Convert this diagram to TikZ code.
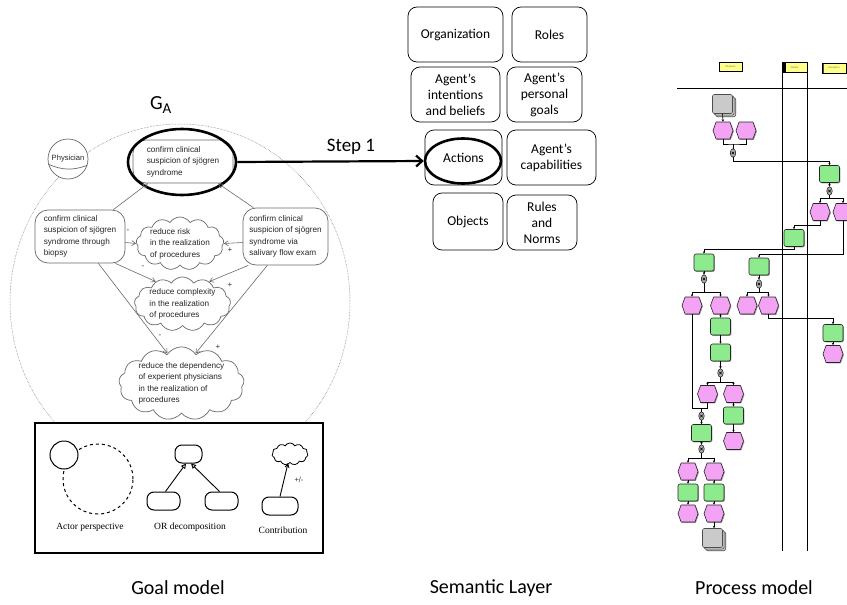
\documentclass[tikz,border=0pt]{standalone}
\usepackage{fontspec}
\setmainfont{Carlito}
\newfontfamily\goalfont{Liberation Sans}
\newfontfamily\legendfont{Liberation Serif}
\usetikzlibrary{shapes.geometric,shapes.symbols,arrows.meta,shadows}

\definecolor{evpink}{HTML}{F4A3F4}
\definecolor{fngreen}{HTML}{8DEB8D}
\definecolor{docgray}{HTML}{CACACA}
\definecolor{lanehead}{HTML}{FFFF8C}
\definecolor{goalline}{HTML}{6A6A6A}

\tikzset{
  % goal model
  gtext/.style={font=\goalfont\fontsize{8.2}{11.4}\selectfont, align=left, text=black!85},
  hardgoal/.style={gtext, draw=goalline, line width=0.7pt, rounded corners=13pt, inner sep=0, fill=white},
  softgoal/.style={gtext, draw=goalline, line width=0.7pt, cloud, cloud puffs=13, cloud puff arc=115,
                   cloud ignores aspect, inner sep=0, fill=white},
  orlink/.style={goalline, line width=0.6pt, -{Triangle[open,length=5pt,width=5pt]}},
  contrib/.style={goalline, line width=0.6pt, -{Straight Barb[length=4pt,width=5pt]}},
  sign/.style={font=\goalfont\fontsize{8}{8}\selectfont, text=black!80, inner sep=0},
  focus/.style={draw=black, ellipse, line width=2.6pt, inner sep=0},
  % legend
  lgbox/.style={draw=black, line width=1pt, rounded corners=7pt, inner sep=0, fill=white},
  lgtext/.style={font=\legendfont\fontsize{9.5}{11}\selectfont},
  % semantic layer
  sembox/.style={draw=black, line width=0.7pt, rounded corners=9pt, inner sep=0, align=center,
                 font=\fontsize{13.5}{16}\selectfont},
  % process model
  shade/.style={drop shadow={shadow xshift=0.9pt, shadow yshift=-0.9pt, fill=black!50, opacity=0.8}},
  fn/.style={shade, draw=black!85, fill=fngreen, rounded corners=2pt, minimum width=20pt,
             minimum height=17pt, inner sep=0, line width=0.6pt},
  ev/.style={shade, draw=black!85, fill=evpink, signal, signal to=east and west, signal pointer angle=140,
             minimum width=20pt, minimum height=17pt, inner sep=0, line width=0.6pt},
  docbox/.style={draw=black!70, fill=docgray, rounded corners=2pt, minimum width=20pt, minimum height=19pt,
             inner sep=0, line width=0.6pt,
             double copy shadow={shadow xshift=1.6pt, shadow yshift=-1.6pt, draw=black!70, fill=docgray}},
  xo/.style={ellipse, draw=black, fill=gray!65, minimum width=5.5pt, minimum height=8.5pt, inner sep=0,
             line width=0.45pt,
             path picture={\draw[line width=0.4pt]
               ([xshift=-1.3pt,yshift=-1.3pt]path picture bounding box.center) --
               ([xshift=1.3pt,yshift=1.3pt]path picture bounding box.center)
               ([xshift=-1.3pt,yshift=1.3pt]path picture bounding box.center) --
               ([xshift=1.3pt,yshift=-1.3pt]path picture bounding box.center);}},
  lanehd/.style={shade, draw=black, fill=lanehead, inner sep=0, line width=0.6pt,
             font=\goalfont\fontsize{2.4}{3}\selectfont, text=black!60},
  flow/.style={draw=black, line width=0.6pt},
  flowa/.style={flow, -{Stealth[length=2.4pt,width=2.4pt]}},
  caption/.style={font=\fontsize{20}{24}\selectfont},
}

\begin{document}
\begin{tikzpicture}[x=1pt,y=-1pt]
\useasboundingbox (0,0) rectangle (847,605);
\clip (0,0) rectangle (847,605);
\fill[white] (0,0) rectangle (847,605);

% ---------------- goal model ----------------
\node[font=\fontsize{20}{20}\selectfont, inner sep=0] (ga) at (161,105) {G\textsubscript{\fontsize{15}{15}\selectfont A}};

\draw[goalline, densely dotted, line width=0.5pt] (180,302) ellipse [x radius=170pt, y radius=178pt];

\node[circle, draw=goalline, fill=white, line width=0.7pt, minimum size=40pt, inner sep=0,
      font=\goalfont\fontsize{7.6}{9}\selectfont, text=black!85] (phys) at (68,159) {Physician};
\draw[goalline, line width=0.7pt] (phys.195) to[bend right=22] (phys.-18);

\node[hardgoal, minimum width=100pt, minimum height=43pt] (tg) at (183,161.5)
  {confirm clinical\\suspicion of sjögren\\syndrome};
\node[focus, minimum width=108pt, minimum height=66pt] (tgsel) at (182,162) {};

\node[hardgoal, minimum width=90pt, minimum height=53pt] (lg) at (80,236.5)
  {confirm clinical\\suspicion of sjögren\\syndrome through\\biopsy};
\node[hardgoal, minimum width=85pt, minimum height=57pt] (rg) at (285.5,236.5)
  {confirm clinical\\suspicion of sjögren\\syndrome via\\salivary flow exam};

\node[softgoal, minimum width=84pt, minimum height=53pt] (c1) at (180,243.5)
  {reduce risk\\in the realization\\of procedures};
\node[softgoal, minimum width=91pt, minimum height=52pt] (c2) at (182.5,304)
  {reduce complexity\\in the realization\\of procedures};
\node[softgoal, minimum width=117pt, minimum height=67pt] (c3) at (181.5,383.5)
  {reduce the dependency\\of experient physicians\\in the realization of\\procedures};

% OR decomposition of the top goal
\draw[orlink] ([xshift=-12pt]lg.north east) -- ([xshift=-35pt]tg.south);
\draw[orlink] ([xshift=-75pt]rg.north east) -- ([xshift=35pt]tg.south);

% contributions to the softgoals
\draw[contrib] ([yshift=-6pt]lg.east) -- (c1.west);
\draw[contrib] ([yshift=-6pt]rg.west) -- (c1.east);
\draw[contrib] ([xshift=-10pt]lg.south east) -- (c2.140);
\draw[contrib] ([xshift=-80pt]rg.south east) -- (c2.40);
\draw[contrib] ([xshift=-27pt]lg.south east) -- (c3.115);
\draw[contrib] ([xshift=-61pt]rg.south east) -- (c3.65);

\node[sign] (s1) at (128,231) {-};
\node[sign] (s2) at (230,250) {+};
\node[sign] (s3) at (143,267) {-};
\node[sign] (s4) at (230,285) {+};
\node[sign] (s5) at (160,336) {-};
\node[sign] (s6) at (218,347) {+};

% ---------------- legend ----------------
\node[draw=black, line width=1.6pt, fill=white, minimum width=288pt, minimum height=130pt, inner sep=0]
  (legend) at (179,488) {};

\node[circle, draw=black, dashed, line width=1pt, minimum size=70pt, inner sep=0] (ldash) at (98,479) {};
\node[circle, draw=black, fill=white, line width=1pt, minimum size=28pt, inner sep=0] (lact) at (64,455) {};
\node[lgtext] (lt1) at (90,527) {Actor perspective};

\node[lgbox, minimum width=27pt, minimum height=18pt] (ltop) at (188.5,454) {};
\node[lgbox, minimum width=33pt, minimum height=18pt] (lb1) at (163.5,501) {};
\node[lgbox, minimum width=33pt, minimum height=18pt] (lb2) at (221.5,501) {};
\draw[line width=0.9pt, -{Triangle[open,length=5pt,width=5pt]}] ([xshift=2pt]lb1.north) -- ([xshift=-2.5pt]ltop.south);
\draw[line width=0.9pt, -{Triangle[open,length=5pt,width=5pt]}] ([xshift=-2pt]lb2.north) -- ([xshift=2.5pt]ltop.south);
\node[lgtext] (lt2) at (190,527) {OR decomposition};

\node[draw=black, line width=0.8pt, cloud, cloud puffs=11, cloud puff arc=120, cloud ignores aspect,
      minimum width=36pt, minimum height=22pt, inner sep=0] (lcl) at (290,454) {};
\node[lgbox, minimum width=36pt, minimum height=18pt] (lcb) at (280,506) {};
\draw[line width=0.9pt, -{Straight Barb[length=3.5pt,width=4pt]}] (lcb.north) -- ([xshift=-2pt]lcl.south);
\node[font=\goalfont\fontsize{7.5}{8}\selectfont, text=black!80] (lpm) at (299,480) {+/-};
\node[lgtext] (lt3) at (283,530) {Contribution};

% ---------------- step arrow ----------------
\node[sembox, minimum width=77pt, minimum height=55pt] (act) at (463.5,157.5) {Actions};
\node[focus, minimum width=76pt, minimum height=45pt] (actsel) at (463,161) {};
\draw[line width=2.2pt, -{Straight Barb[length=6pt,width=11pt]}] (tgsel.east) -- (actsel.west);
\node[font=\fontsize{19}{19}\selectfont, inner sep=0] (step) at (351,147) {Step 1};

% ---------------- semantic layer ----------------
\node[sembox, minimum width=95pt, minimum height=55pt] (org) at (455.5,34.5) {Organization};
\node[sembox, minimum width=75pt, minimum height=55pt] (rol) at (549.5,34.5) {Roles};
\node[sembox, minimum width=89pt, minimum height=55pt] (int) at (455.5,94.5) {Agent’s\\intentions\\and beliefs};
\node[sembox, minimum width=75pt, minimum height=55pt] (pgo) at (544.5,94.5) {Agent’s\\personal\\goals};
\node[sembox, minimum width=89pt, minimum height=55pt] (cap) at (551.5,157.5) {Agent’s\\capabilities};
\node[sembox, minimum width=70pt, minimum height=57pt] (obj) at (468,221.5) {Objects};
\node[sembox, minimum width=70pt, minimum height=55pt] (rul) at (542,222.5) {Rules\\and\\Norms};

% ---------------- process model ----------------
\draw[line width=0.8pt] (677,88) -- (847,88);
\draw[line width=0.8pt] (782,62) -- (782,551);
\draw[line width=0.8pt] (807,62) -- (807,551);

\node[lanehd, minimum width=23pt, minimum height=8.5pt] (h1) at (730.5,67) {Physician};
\node[lanehd, minimum width=25pt, minimum height=9.5pt,
      path picture={\fill[black] (path picture bounding box.south west) rectangle
        ([xshift=3.5pt]path picture bounding box.north west);}] (h2) at (794.5,67.5) {Patient};
\node[lanehd, minimum width=24pt, minimum height=10pt,
      path picture={\fill[black!70] (path picture bounding box.south west) rectangle
        ([xshift=2pt]path picture bounding box.north west);}] (h3) at (834,68) {Reception};

\node[docbox] (d1) at (722.5,104) {};
\node[ev] (e1) at (723,130.5) {};
\node[ev] (e2) at (746,130.5) {};
\node[xo] (x1) at (733,153) {};
\node[fn] (f1) at (829.5,174) {};
\node[xo] (x2) at (829.5,191) {};
\node[ev] (e3) at (820,212) {};
\node[ev] (e4) at (843,212) {};
\node[fn] (f2) at (794,238) {};
\node[fn] (f3) at (704,262.5) {};
\node[fn] (f4) at (759,266.5) {};
\node[xo] (x3) at (704,279) {};
\node[xo] (x4) at (759,284) {};
\node[ev] (e5) at (692,305.5) {};
\node[ev] (e6) at (720.5,305.5) {};
\node[ev] (e7) at (747,305.5) {};
\node[ev] (e8) at (768.5,305.5) {};
\node[fn] (f5) at (833,333) {};
\node[ev] (e9) at (833,354) {};
\node[fn] (f6) at (720.5,326.5) {};
\node[fn] (f7) at (720.5,352.5) {};
\node[xo] (x5) at (720.5,373) {};
\node[ev] (e10) at (707.5,394) {};
\node[ev] (e11) at (733.5,394) {};
\node[fn] (f8) at (733.5,415.5) {};
\node[ev] (e12) at (733.5,441) {};
\coordinate (j1) at (701.5,408);
\node[xo] (x6) at (701.5,416) {};
\node[fn] (f9) at (701.5,433) {};
\node[xo] (x7) at (701.5,449) {};
\node[ev] (e13) at (688,471.5) {};
\node[ev] (e14) at (714,471.5) {};
\node[fn] (f10) at (688,492.5) {};
\node[fn] (f11) at (714,492.5) {};
\node[ev] (e15) at (688,513.5) {};
\node[ev] (e16) at (714,513.5) {};
\node[docbox] (d2) at (712.5,538) {};

\draw[flowa] (d1.south) -- (e1.north);
\coordinate (m1) at (733,144);
\draw[flow] (e1.south) |- (m1) -| (e2.south);
\draw[flow] (m1) -- (x1.north);
\draw[flowa] (x1.south) -- ++(0,4) -| (f1.north);
\draw[flowa] (f1.south) -- (x2.north);
\draw[flow] (x2.south) -- ++(0,2.5) coordinate (s2a);
\draw[flowa] (s2a) -| (e3.north);
\draw[flowa] (s2a) -| (e4.north);
\draw[flowa] (e3.south) -- ++(0,4) -| (f2.north);
\draw[flowa] (f2.south) -- ++(0,2) -| (f3.north);
\draw[flowa] (e4.south) -- ++(0,33) -| (f4.north);
\draw[flowa] (f3.south) -- (x3.north);
\draw[flowa] (f4.south) -- (x4.north);
\draw[flow] (x3.south) -- ++(0,8.5) coordinate (s3a);
\draw[flowa] (s3a) -| (e5.north);
\draw[flowa] (s3a) -| (e6.north);
\draw[flow] (x4.south) -- ++(0,3.5) coordinate (s4a);
\draw[flowa] (s4a) -| (e7.north);
\draw[flowa] (s4a) -| (e8.north);
\draw[flowa] (e8.south) -- ++(0,4) -| (f5.north);
\draw[flowa] (f5.south) -- (e9.north);
\draw[flowa] (e6.south) -- (f6.north);
\draw[flowa] (f6.south) -- (f7.north);
\draw[flowa] (f7.south) -- (x5.north);
\draw[flow] (x5.south) -- ++(0,4.5) coordinate (s5a);
\draw[flowa] (s5a) -| (e10.north);
\draw[flowa] (s5a) -| (e11.north);
\draw[flowa] (e11.south) -- (f8.north);
\draw[flowa] (f8.south) -- (e12.north);
\draw[flow] (e5.south) |- (j1);
\draw[flow] (e10.south) |- (j1);
\draw[flow] (j1) -- (x6.north);
\draw[flowa] (x6.south) -- (f9.north);
\draw[flowa] (f9.south) -- (x7.north);
\draw[flow] (x7.south) -- ++(0,4.5) coordinate (s7a);
\draw[flowa] (s7a) -| (e13.north);
\draw[flowa] (s7a) -| (e14.north);
\draw[flowa] (e13.south) -- (f10.north);
\draw[flowa] (e14.south) -- (f11.north);
\draw[flowa] (f10.south) -- (e15.north);
\draw[flowa] (f11.south) -- (e16.north);
\draw[flowa] (e16.south) -- ([xshift=1.5pt]d2.north);

% ---------------- captions ----------------
\node[caption] (cap1) at (178,588) {Goal model};
\node[caption] (cap2) at (491,588) {Semantic Layer};
\node[caption] (cap3) at (754,588) {Process model};
\end{tikzpicture}
\end{document}
